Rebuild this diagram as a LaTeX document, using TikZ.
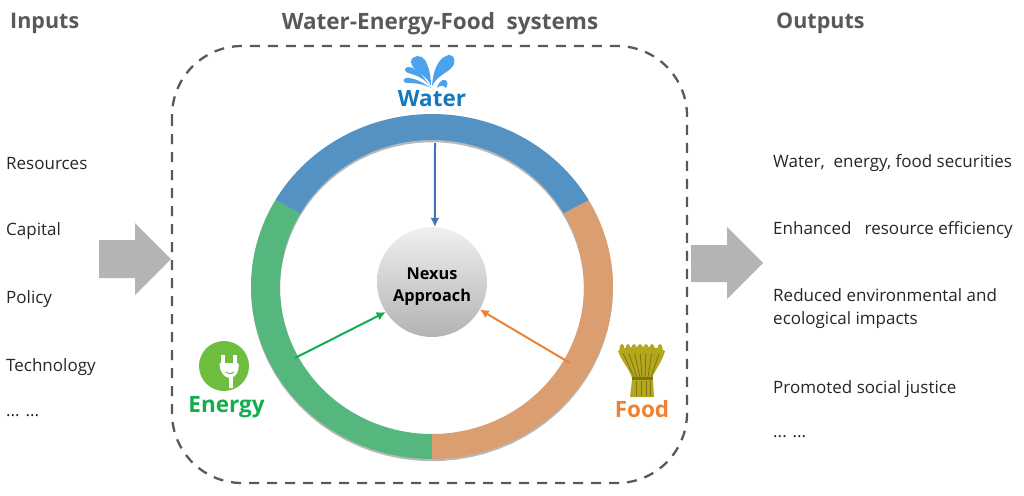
\documentclass[tikz,border=0pt]{standalone}
\usepackage{fontspec}
\setmainfont{Open Sans}
\usetikzlibrary{arrows.meta}
\definecolor{headgray}{HTML}{595959}
\definecolor{ringblue}{HTML}{5592C4}
\definecolor{ringgreen}{HTML}{55B77D}
\definecolor{ringorange}{HTML}{DB9E70}
\definecolor{arrowblue}{HTML}{3F78BE}
\definecolor{arrowgreen}{HTML}{12AD4E}
\definecolor{arroworange}{HTML}{ED8233}
\definecolor{blockgray}{HTML}{B4B4B4}
\definecolor{waterblue}{HTML}{4BA3EE}
\definecolor{waterlabel}{HTML}{1478BE}
\definecolor{plugcol}{HTML}{6DBE3F}
\definecolor{wheatcol}{HTML}{B3A71E}
\definecolor{wheatdark}{HTML}{7F7410}
\tikzset{
  x=1pt,y=-1pt,
  heading/.style={font=\fontsize{21.5}{24}\selectfont\bfseries,text=headgray,inner sep=0pt},
  item/.style={font=\fontsize{17}{23}\selectfont,text=black!85,anchor=west,inner sep=0pt,align=left},
  biglabel/.style={font=\fontsize{22.5}{26}\selectfont\bfseries,inner sep=0pt},
  blockarrow/.style={fill=blockgray,draw=none},
  spoke/.style={line width=2pt,-{Latex[length=9pt,width=9pt]}},
  petal/.style={fill=waterblue,draw=none},
}
\newcommand{\ringseg}[4][0]{%
  \fill[#2] plot[domain=#3:#4,samples=80] ({432+181*cos(\x)},{#1+286.5-172.5*sin(\x)})
    -- plot[domain=#4:#3,samples=80] ({432+152*cos(\x)},{#1+287-147*sin(\x)}) -- cycle;}
\begin{document}
\begin{tikzpicture}
\useasboundingbox (0,0) rectangle (1024,495);
% headings
\node[heading,anchor=west] (hin) at (10,23) {Inputs};
\node[heading,font=\fontsize{22.5}{24}\selectfont\bfseries] (hsys) at (440,24) {Water-Energy-Food\ \ systems};
\node[heading,anchor=west] (hout) at (776,23) {Outputs};
% left list
\node[item] (i1) at (6,164) {Resources};
\node[item] (i2) at (6,231) {Capital};
\node[item] (i3) at (6,299) {Policy};
\node[item] (i4) at (6,367) {Technology};
\node[item] (i5) at (6,416) {... ...};
% right list
\node[item] (o1) at (773,163) {Water,\ \ energy, food securities};
\node[item] (o2) at (773,230) {Enhanced\ \ \ resource efficiency};
\node[item] (o3) at (773,309) {Reduced environmental and\\ecological impacts};
\node[item] (o4) at (773,389) {Promoted social justice};
\node[item] (o5) at (773,437) {... ...};
% block arrows
\fill[blockarrow] (99,240) -- (135,240) -- (135,223) -- (171,259) -- (135,295) -- (135,278) -- (99,278) -- cycle;
\fill[blockarrow] (691,245) -- (727,245) -- (727,227) -- (763,263) -- (727,299) -- (727,282) -- (691,282) -- cycle;
% system frame
\draw[headgray,line width=2.3pt,dash pattern=on 10pt off 8pt,rounded corners=70pt] (172,46) rectangle (687,483);
% ring
\ringseg[2.2]{black!28}{0}{360}
\ringseg{ringblue}{30}{150}
\ringseg{ringgreen}{150}{270}
\ringseg{ringorange}{270}{390}
% nexus
\node[circle,minimum size=110pt,inner sep=0pt,top color=black!6,bottom color=black!30,
  font=\fontsize{16.3}{22}\selectfont\bfseries,text=black] (nexus) at (432,282)
  {\begin{tabular}{@{}c@{}}\rule{0pt}{23.4pt}Nexus\\Approach\end{tabular}};
\coordinate (ws) at (435,143);
\coordinate (es) at (295,358);
\coordinate (fs) at (570,363);
\draw[spoke,arrowblue] (ws) -- (nexus.87);
\draw[spoke,arrowgreen] (es) -- (nexus.213);
\draw[spoke,arroworange] (fs) -- (nexus.-30);
% water icon
\fill[petal] (431,86) .. controls (428,75) and (412,72) .. (411,62) .. controls (411,55) and (422,54) .. (425,60) .. controls (429,67) and (431,76) .. (431,86) -- cycle;
\fill[petal] (432,86) .. controls (433,72) and (437,60) .. (446,56) .. controls (452,53) and (456,58) .. (454,64) .. controls (451,72) and (438,74) .. (432,86) -- cycle;
\fill[petal] (431,87) .. controls (424,78) and (417,67) .. (408,67) .. controls (404,67) and (404,72) .. (408,73) .. controls (416,75) and (424,78) .. (431,87) -- cycle;
\fill[petal] (431,88) .. controls (424,83) and (413,77) .. (406,78) .. controls (402,79) and (403,83) .. (407,83) .. controls (415,83) and (424,84) .. (431,88) -- cycle;
\fill[petal] (437,88) .. controls (438,83) and (442,79) .. (445,80) .. controls (448,81) and (448,85) .. (446,88) .. controls (443,85) and (440,85) .. (437,88) -- cycle;
\node[biglabel,text=waterlabel] (water) at (432,99) {Water};
% energy icon
\fill[plugcol] (224,366) circle[radius=25];
\fill[white] (221,355) rectangle (225,364);
\fill[white] (233,355) rectangle (237,364);
\fill[white,rounded corners=2pt] (219,363) -- (239,363) -- (238,372) -- (233,378) -- (227,378) -- (221,372) -- cycle;
\fill[white] (229,377) rectangle (233,388);
\draw[plugcol,line width=1pt,line cap=round] (226,372) .. controls (228,374) and (232,374) .. (234,372);
\node[biglabel,text=arrowgreen] (energy) at (226.5,407) {Energy};
% food icon
\fill[wheatcol] (618,351) .. controls (628,345) and (655,345) .. (665,351) .. controls (662,362) and (655,370) .. (652,378) -- (632,378) .. controls (630,370) and (622,362) .. (618,351) -- cycle;
\fill[wheatcol] (632,380) -- (653,380) -- (654,397) -- (630,397) -- cycle;
\foreach \a/\b in {622/634,628/637,634/640,640/642,646/645,652/648,660/651}{
  \draw[wheatdark,line width=0.8pt] (\a,351) -- (\b,377);
  \fill[wheatcol] (\a,349) ellipse[x radius=2.6,y radius=5];}
\foreach \a in {636,641,646,650}{\draw[wheatdark,line width=0.7pt] (\a,381) -- (\a,396);}
\draw[wheatdark,line width=2.2pt] (632,378.5) -- (653,378.5);
\node[biglabel,text=arroworange] (food) at (642,409) {Food};
\end{tikzpicture}
\end{document}
